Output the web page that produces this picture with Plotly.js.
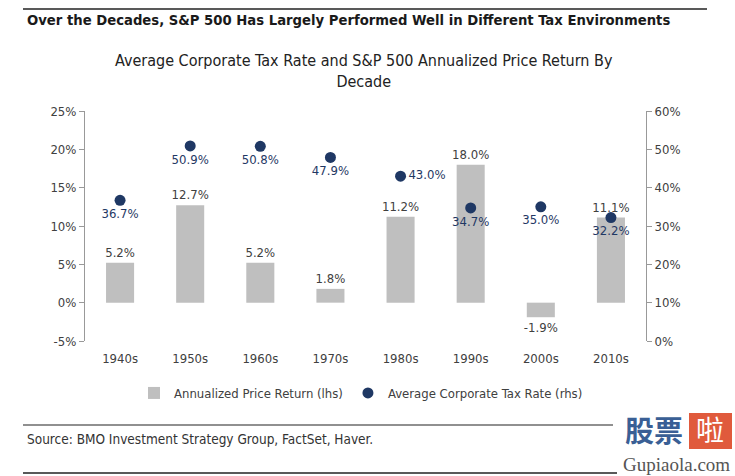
<!DOCTYPE html>
<html><head><meta charset="utf-8">
<script src="https://cdn.plot.ly/plotly-3.0.1.min.js"></script>
<style>html,body{margin:0;padding:0;background:#fff}#chart{width:735px;height:476px}</style>
</head><body><div id="chart"></div>
<script>
var decades = ['1940s','1950s','1960s','1970s','1980s','1990s','2000s','2010s'];
var priceReturn = [5.2, 12.7, 5.2, 1.8, 11.2, 18.0, -1.9, 11.1];
var taxRate = [36.7, 50.9, 50.8, 47.9, 43.0, 34.7, 35.0, 32.2];
var taxLabelPos = ['bottom center','bottom center','bottom center','bottom center','middle right','bottom center','bottom center','bottom center'];
var leftTicks = [-5, 0, 5, 10, 15, 20, 25];
var rightTicks = [0, 10, 20, 30, 40, 50, 60];

var FONT = '"Liberation Sans Narrow", "DejaVu Sans Condensed", "Open Sans", sans-serif';
var W = 735, H = 476;
var ML = 85, MR = 89, MT = 111, MB = 135;
var PW = W - ML - MR, PH = H - MT - MB;
// paper coords in Plotly are relative to the plot area
function px(x){return (x - ML)/PW;}
function py(y){return (H - MB - y)/PH;}

var boundaries = decades.slice(1).map(function(d,i){return i+0.5;});

var traces = [
  {type:'bar', x:decades, y:priceReturn, name:'Annualized Price Return (lhs)',
   marker:{color:'#bfbfbf'}, width:0.4,
   text:priceReturn.map(function(v){return v.toFixed(1)+'%';}), textposition:'outside', constraintext:'none',
   textfont:{family:FONT, size:13, color:'#404040'}, cliponaxis:false, hoverinfo:'skip'},
  {type:'scatter', mode:'markers+text', x:decades, y:taxRate, yaxis:'y2', name:'Average Corporate Tax Rate (rhs)',
   marker:{color:'#1f3864', size:11},
   text:taxRate.map(function(v){return v.toFixed(1)+'%';}), textposition:taxLabelPos,
   textfont:{family:FONT, size:13, color:'#1f3864'}, cliponaxis:false, hoverinfo:'skip'}
];

var layout = {
  width:W, height:H, paper_bgcolor:'#fff', plot_bgcolor:'rgba(0,0,0,0)',
  margin:{l:ML, r:MR, t:MT, b:MB},
  font:{family:FONT, size:12, color:'#404040'},
  showlegend:true,
  legend:{orientation:'h', x:px(134), xanchor:'left', y:py(378), yanchor:'top', itemwidth:30,
          font:{family:FONT, size:13, color:'#404040'}, tracegroupgap:0, bgcolor:'rgba(0,0,0,0)'},
  xaxis:{type:'category', categoryarray:decades, range:[-0.5, decades.length-0.5],
         showline:false, showgrid:false, zeroline:false, ticks:'', ticklabelstandoff:8,
         tickfont:{family:FONT, size:13, color:'#404040'}},
  xaxis2:{overlaying:'x', anchor:'free', position:(H - 302)/H, range:[-0.5, decades.length-0.5],
          tickvals:boundaries, showticklabels:false, ticks:'outside', ticklen:4, tickcolor:'#999',
          showline:true, linecolor:'#999', linewidth:1, showgrid:false, zeroline:false},
  yaxis:{range:[-5,25], tickvals:leftTicks, ticktext:leftTicks.map(function(v){return v+'%';}),
         showline:true, linecolor:'#999', ticks:'outside', ticklen:5, tickcolor:'#999',
         showgrid:false, zeroline:false, tickfont:{family:FONT, size:13, color:'#404040'}},
  yaxis2:{overlaying:'y', side:'right', range:[0,60], tickvals:rightTicks,
          ticktext:rightTicks.map(function(v){return v+'%';}),
          showline:true, linecolor:'#999', ticks:'outside', ticklen:5, tickcolor:'#999',
          showgrid:false, zeroline:false, tickfont:{family:FONT, size:13, color:'#404040'}},
  shapes:[
    {type:'line', xref:'paper', yref:'paper', x0:px(23), x1:px(707), y0:py(9), y1:py(9), line:{color:'#222', width:1.5}},
    {type:'line', xref:'paper', yref:'paper', x0:px(23), x1:px(613), y0:py(425), y1:py(425), line:{color:'#222', width:1.2}},
    {type:'line', xref:'paper', yref:'paper', x0:px(23), x1:px(617), y0:py(473), y1:py(473), line:{color:'#222', width:1.5}},
    {type:'rect', xref:'paper', yref:'paper', x0:px(689), x1:px(732), y0:py(449), y1:py(413), fillcolor:'#e05a3c', line:{width:0}}
  ],
  annotations:[
    {xref:'paper', yref:'paper', x:px(25), y:py(19), xanchor:'left', yanchor:'middle', showarrow:false,
     text:'<b>Over the Decades, S&P 500 Has Largely Performed Well in Different Tax Environments</b>',
     font:{family:FONT, size:14.7, color:'#1a1a1a'}},
    {xref:'paper', yref:'paper', x:px(364), y:py(71), xanchor:'center', yanchor:'middle', showarrow:false,
     text:'Average Corporate Tax Rate and S&P 500 Annualized Price Return By<br>Decade',
     font:{family:FONT, size:16, color:'#222'}},
    {xref:'paper', yref:'paper', x:px(25), y:py(439), xanchor:'left', yanchor:'middle', showarrow:false,
     text:'Source: BMO Investment Strategy Group, FactSet, Haver.',
     font:{family:FONT, size:13.5, color:'#333'}},
    {xref:'paper', yref:'paper', x:px(654), y:py(429), xanchor:'center', yanchor:'middle', showarrow:false, borderpad:0,
     text:'<b>股票</b>', font:{family:'"Noto Sans CJK SC", sans-serif', size:29, color:'#3a5f95'}},
    {xref:'paper', yref:'paper', x:px(710), y:py(429), xanchor:'center', yanchor:'middle', showarrow:false, borderpad:0,
     text:'啦', font:{family:'"Noto Sans CJK SC", sans-serif', size:28, color:'#fff'}},
    {xref:'paper', yref:'paper', x:px(676), y:py(476), xanchor:'center', yanchor:'bottom', showarrow:false, borderpad:0,
     text:'Gupiaola.com', font:{family:'"Liberation Serif", "DejaVu Serif", serif', size:19, color:'#555'}}
  ]
};

Plotly.newPlot('chart', traces, layout, {displayModeBar:false, staticPlot:true});
</script></body></html>
